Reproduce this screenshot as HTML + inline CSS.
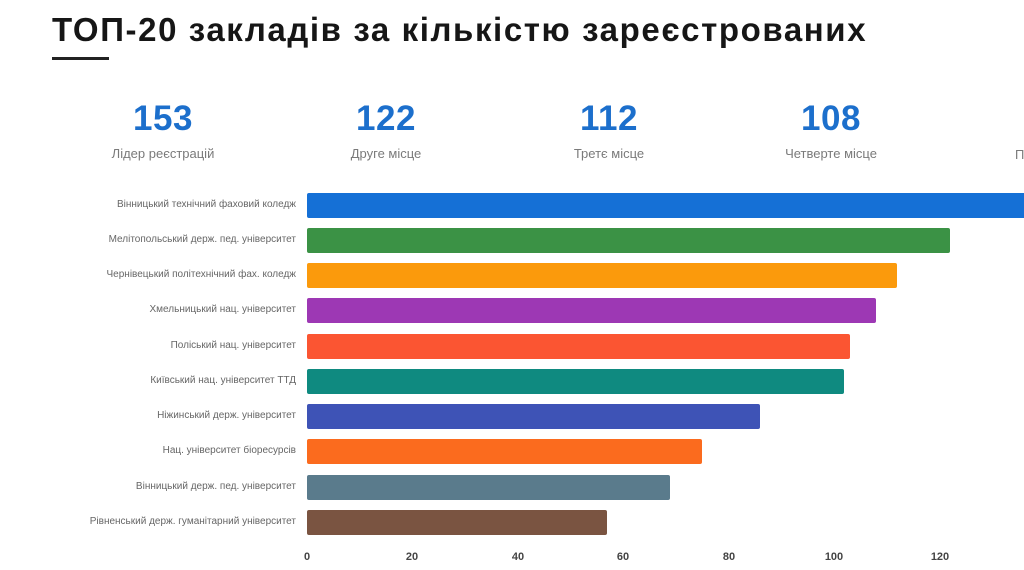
<!DOCTYPE html>
<html><head><meta charset="utf-8"><style>
html,body{margin:0;width:1024px;height:570px;overflow:hidden}
body{background:#fff;position:relative;font-family:"Liberation Sans","DejaVu Sans",sans-serif}
.t{position:absolute;left:52px;top:11px;font-size:33px;font-weight:bold;color:#161616;white-space:nowrap;letter-spacing:1.6px}
.ul{position:absolute;left:52px;top:57px;width:57px;height:3px;background:#222}
.st{position:absolute;top:99px;width:200px;margin-left:-100px;text-align:center}
.st b{display:block;font-size:35px;color:#1c6fcc;height:42px;letter-spacing:0.5px}
.st span{display:block;font-size:13px;color:#7a7a7a;margin-top:5px}
.lb{position:absolute;right:728px;font-size:10px;color:#666;white-space:nowrap;text-align:right;line-height:14px}
.bar{position:absolute;left:307px;height:25px;border-radius:2px}
.tk{position:absolute;top:551px;font-size:11px;font-weight:bold;color:#444;width:40px;margin-left:-20px;text-align:center}
</style></head><body>
<div class="t">ТОП-20 закладів за кількістю зареєстрованих</div>
<div class="ul"></div>
<div class="st" style="left:163px"><b>153</b><span>Лідер реєстрацій</span></div>
<div class="st" style="left:386px"><b>122</b><span>Друге місце</span></div>
<div class="st" style="left:609px"><b>112</b><span>Третє місце</span></div>
<div class="st" style="left:831px"><b>108</b><span>Четверте місце</span></div>
<div style="position:absolute;left:1015px;top:147px;font-size:13px;color:#7a7a7a">П</div>

<div class="lb" style="top:198px">Вінницький технічний фаховий коледж</div>
<div class="lb" style="top:233px">Мелітопольський держ. пед. університет</div>
<div class="lb" style="top:268px">Чернівецький політехнічний фах. коледж</div>
<div class="lb" style="top:303px">Хмельницький нац. університет</div>
<div class="lb" style="top:339px">Поліський нац. університет</div>
<div class="lb" style="top:374px">Київський нац. університет ТТД</div>
<div class="lb" style="top:409px">Ніжинський держ. університет</div>
<div class="lb" style="top:444px">Нац. університет біоресурсів</div>
<div class="lb" style="top:480px">Вінницький держ. пед. університет</div>
<div class="lb" style="top:515px">Рівненський держ. гуманітарний університет</div>

<div class="bar" style="top:193px;width:717px;background:#1570d6;border-radius:2px 0 0 2px"></div>
<div class="bar" style="top:228px;width:643px;background:#3b9245"></div>
<div class="bar" style="top:263px;width:590px;background:#fb9a0c"></div>
<div class="bar" style="top:298px;width:569px;background:#9d38b4"></div>
<div class="bar" style="top:334px;width:543px;background:#fb5532"></div>
<div class="bar" style="top:369px;width:537px;background:#0f8a80"></div>
<div class="bar" style="top:404px;width:453px;background:#3e53b6"></div>
<div class="bar" style="top:439px;width:395px;background:#fb6b1e"></div>
<div class="bar" style="top:475px;width:363px;background:#5a7b8c"></div>
<div class="bar" style="top:510px;width:300px;background:#7a5441"></div>

<div class="tk" style="left:307px">0</div>
<div class="tk" style="left:412px">20</div>
<div class="tk" style="left:518px">40</div>
<div class="tk" style="left:623px">60</div>
<div class="tk" style="left:729px">80</div>
<div class="tk" style="left:834px">100</div>
<div class="tk" style="left:940px">120</div>
</body></html>
